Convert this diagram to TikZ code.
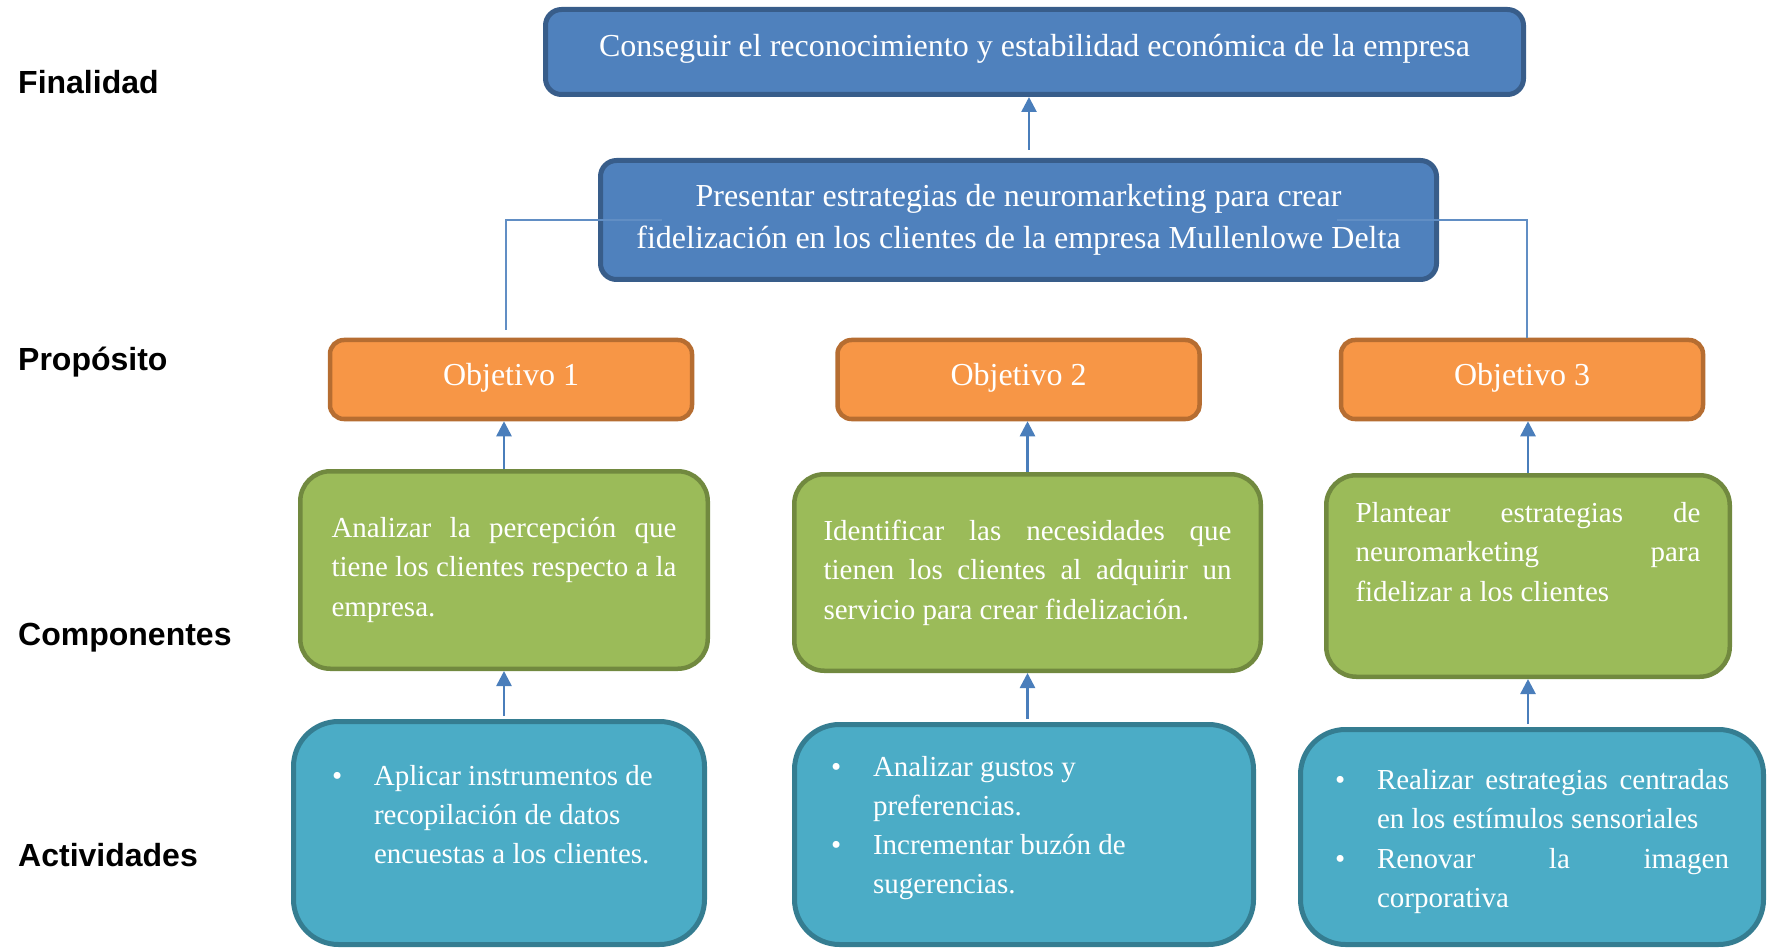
\documentclass[tikz,border=0pt]{standalone}
\usepackage{fontspec}
\setmainfont{Liberation Serif}
\newfontfamily\etiq{Liberation Sans}
\usepackage{tikz}
\usetikzlibrary{positioning,arrows.meta}

\definecolor{azul}{HTML}{4F81BD}
\definecolor{azulosc}{HTML}{385D8A}
\definecolor{naranja}{HTML}{F79646}
\definecolor{naranjaosc}{HTML}{B66D31}
\definecolor{verde}{HTML}{9BBB59}
\definecolor{verdeosc}{HTML}{71893F}
\definecolor{celeste}{HTML}{4BACC6}
\definecolor{celesteosc}{HTML}{357D91}
\definecolor{flechas}{HTML}{4A7EBB}

\tolerance=10000
\hbadness=10000
\newcommand{\punto}{\par\hangindent=42pt\hangafter=1\noindent\makebox[42pt][l]{\textbullet}}
\newcommand{\subir}[1]{\par\kern#1}

\begin{document}
\begin{tikzpicture}[x=1pt,y=-1pt,node distance=150pt,on grid,
    caja/.style={text=white,font=\fontsize{32}{42}\selectfont,inner sep=0pt},
    meta/.style={caja,draw=azulosc,fill=azul,line width=5pt,rounded corners=16pt},
    obj/.style={caja,draw=naranjaosc,fill=naranja,line width=4.5pt,rounded corners=14pt,
      minimum width=362pt,minimum height=79pt,text depth=11pt},
    comp/.style={caja,draw=verdeosc,fill=verde,line width=4.5pt,rounded corners=30pt,
      align=justify,font=\fontsize{29}{39.5}\selectfont},
    act/.style={caja,draw=celesteosc,fill=celeste,line width=5pt,rounded corners=45pt,
      align=justify,font=\fontsize{29}{39.3}\selectfont},
    flecha/.style={draw=flechas,line width=2.6pt,-{Triangle[length=15pt,width=15pt]}},
    enlace/.style={draw=azul!90!white,line width=1.6pt},
    nivel/.style={anchor=base west,inner sep=0pt,font=\etiq\bfseries\fontsize{32}{38}\selectfont}]
    \useasboundingbox (0,0) rectangle (1767,949);

    \node[meta,minimum width=978pt,minimum height=85pt,text depth=14pt] (fin) at (1034.5,52)
      {Conseguir el reconocimiento y estabilidad económica de la empresa};
    \node[meta,minimum width=836pt,minimum height=119pt,align=center] (prop) [below left=168pt and 16pt of fin]
      {Presentar estrategias de neuromarketing para crear\\fidelización en los clientes de la empresa Mullenlowe Delta};

    \node[obj] (o2) [below=159.5pt of prop] {Objetivo 2};
    \node[obj] (o1) [left=507.5pt of o2] {Objetivo 1};
    \node[obj] (o3) [right=503.5pt of o2] {Objetivo 3};

    \node[comp,minimum width=407.5pt,minimum height=197.5pt,text width=345pt] (c1) [below left=190.5pt and 7pt of o1]
      {Analizar la percepción que\linebreak tiene los clientes respecto a la\linebreak empresa.};
    \node[comp,minimum width=466.5pt,minimum height=196.5pt,text width=408pt] (c2) [below right=193pt and 9pt of o2]
      {Identificar las necesidades que\linebreak tienen los clientes al adquirir un\linebreak servicio para crear fidelización.};
    \node[comp,minimum width=403.5pt,minimum height=201.5pt,text width=345pt] (c3) [below right=196.5pt and 6pt of o3]
      {Plantear estrategias de\linebreak neuromarketing para\linebreak fidelizar a los clientes\subir{48pt}};

    \node[act,minimum width=411pt,minimum height=223pt,text width=334pt] (a1) [below left=263pt and 5pt of c1]
      {\punto Aplicar instrumentos de\newline recopilación de datos\newline encuestas a los clientes.\subir{56pt}};
    \node[act,minimum width=459pt,minimum height=220pt,text width=386pt] (a2) [below left=262pt and 3.5pt of c2]
      {\punto Analizar gustos y\newline preferencias.
       \punto Incrementar buzón de\newline sugerencias.\subir{32pt}};
    \node[act,minimum width=463pt,minimum height=215pt,text width=394pt] (a3) [below right=261pt and 4pt of c3]
      {\punto Realizar estrategias centradas\linebreak en los estímulos sensoriales
       \punto Renovar la imagen\linebreak corporativa\subir{10pt}};

    \coordinate (pf) at ([xshift=10.5pt]prop.north);
    \draw[flecha,shorten <=8pt] (pf) -- (pf |- fin.south);
    \draw[flecha] (c1.north) -- (c1.north |- o1.south);
    \draw[flecha] (c2.north) -- (c2.north |- o2.south);
    \draw[flecha] (c3.north) -- (c3.north |- o3.south);
    \draw[flecha,shorten <=3pt] (c1.south |- a1.north) -- (c1.south);
    \draw[flecha,shorten <=3pt] (c2.south |- a2.north) -- (c2.south);
    \draw[flecha,shorten <=3pt] (c3.south |- a3.north) -- (c3.south);

    \draw[enlace,shorten >=8pt] ([xshift=64pt]prop.west) -| ([xshift=-5pt]o1.north);
    \draw[enlace] ([xshift=-102pt]prop.east) -| ([xshift=5pt]o3.north);

    \node[nivel] (finalidad) at (18,94) {Finalidad};
    \node[nivel] (proposito) at (18,371) {Propósito};
    \node[nivel] (componentes) at (18,645) {Componentes};
    \node[nivel] (actividades) at (18,866) {Actividades};
\end{tikzpicture}
\end{document}
